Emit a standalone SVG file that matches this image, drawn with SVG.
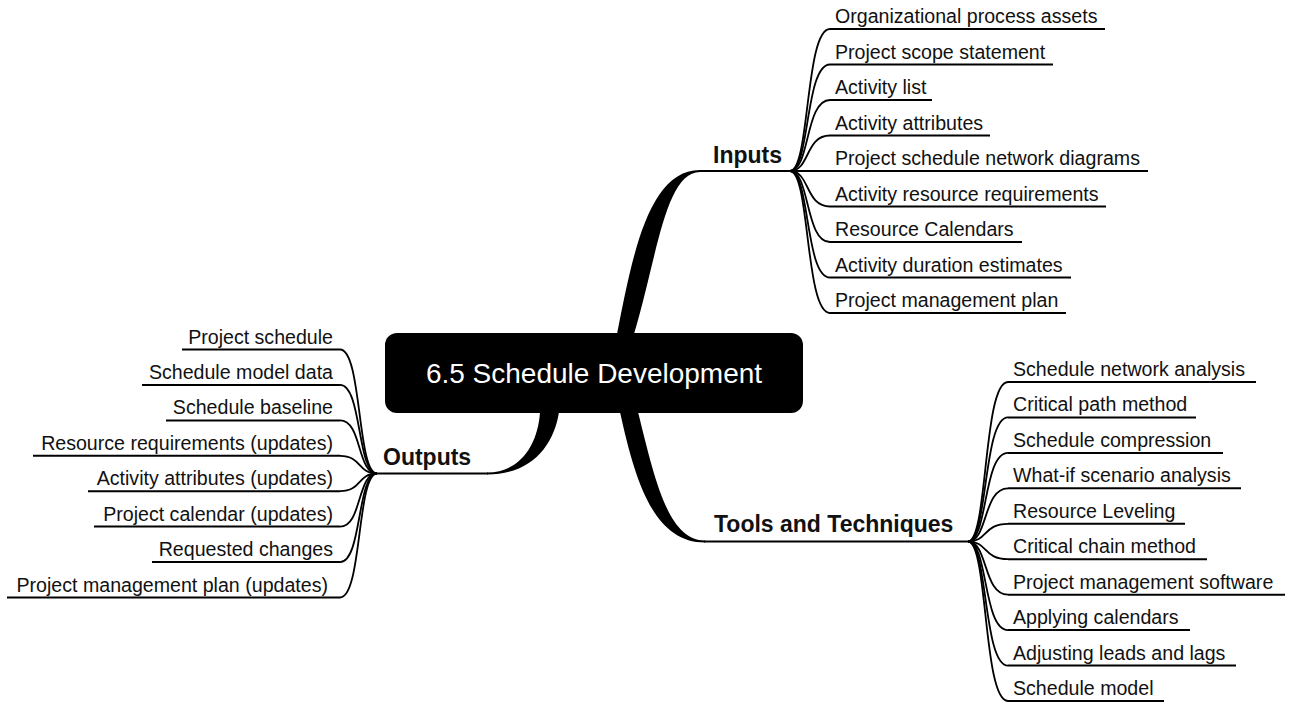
<svg xmlns="http://www.w3.org/2000/svg" width="1289" height="702" viewBox="0 0 1289 702">
  <style>
    .leaf { font-family: "Liberation Sans", Arial, sans-serif; font-size: 19.6px; fill: #111; }
    .topic { font-family: "Liberation Sans", Arial, sans-serif; font-size: 23px; font-weight: bold; fill: #111; }
    .root { font-family: "Liberation Sans", Arial, sans-serif; font-size: 28px; fill: #fff; }
    .ul { stroke: #000; stroke-width: 2; fill: none; }
    .link { stroke: #000; stroke-width: 1.8; fill: none; }
    .trunk { fill: #000; stroke: none; }
  </style>
  <rect width="1289" height="702" fill="#fff"/>

  <!-- connectors: tapered main branches and thin leaf links -->
  <g id="connectors">
    <!-- central topic to Inputs -->
    <path class="trunk" d="M617,334 C632,258 648,170 700,170 L700,172 C665,172 657,258 634,334 Z"/>
    <!-- central topic to Tools and Techniques -->
    <path class="trunk" d="M620,412 C636,485 655,542.5 705,542.5 L705,540.5 C668,540.5 655,480 638,412 Z"/>
    <!-- central topic to Outputs -->
    <path class="trunk" d="M540,412 C538,445 520,472.5 487,472.5 L487,474.5 C532,474.5 554,445 559,412 Z"/>

    <!-- Inputs links -->
    <g id="links-inputs">
      <path class="link" d="M790,171 C810,171 805,29 830,29"/>
      <path class="link" d="M790,171 C810,171 805,64.5 830,64.5"/>
      <path class="link" d="M790,171 C810,171 805,100 830,100"/>
      <path class="link" d="M790,171 C810,171 805,135.5 830,135.5"/>
      <path class="link" d="M790,171 L830,171"/>
      <path class="link" d="M790,171 C810,171 805,206.5 830,206.5"/>
      <path class="link" d="M790,171 C810,171 805,242 830,242"/>
      <path class="link" d="M790,171 C810,171 805,277.5 830,277.5"/>
      <path class="link" d="M790,171 C810,171 805,313 830,313"/>
    </g>

    <!-- Tools and Techniques links -->
    <g id="links-tools">
      <path class="link" d="M968,541.5 C988,541.5 983,382 1008,382"/>
      <path class="link" d="M968,541.5 C988,541.5 983,417.4 1008,417.4"/>
      <path class="link" d="M968,541.5 C988,541.5 983,452.9 1008,452.9"/>
      <path class="link" d="M968,541.5 C988,541.5 983,488.3 1008,488.3"/>
      <path class="link" d="M968,541.5 C988,541.5 983,523.8 1008,523.8"/>
      <path class="link" d="M968,541.5 C988,541.5 983,559.2 1008,559.2"/>
      <path class="link" d="M968,541.5 C988,541.5 983,594.7 1008,594.7"/>
      <path class="link" d="M968,541.5 C988,541.5 983,630.1 1008,630.1"/>
      <path class="link" d="M968,541.5 C988,541.5 983,665.6 1008,665.6"/>
      <path class="link" d="M968,541.5 C988,541.5 983,701 1008,701"/>
    </g>

    <!-- Outputs links -->
    <g id="links-outputs">
      <path class="link" d="M377,473.5 C357,473.5 362,349.5 340,349.5"/>
      <path class="link" d="M377,473.5 C357,473.5 362,384.9 340,384.9"/>
      <path class="link" d="M377,473.5 C357,473.5 362,420.4 340,420.4"/>
      <path class="link" d="M377,473.5 C357,473.5 362,455.8 340,455.8"/>
      <path class="link" d="M377,473.5 C357,473.5 362,491.2 340,491.2"/>
      <path class="link" d="M377,473.5 C357,473.5 362,526.6 340,526.6"/>
      <path class="link" d="M377,473.5 C357,473.5 362,562.1 340,562.1"/>
      <path class="link" d="M377,473.5 C357,473.5 362,597.5 340,597.5"/>
    </g>
  </g>

  <!-- central topic -->
  <g id="root">
    <rect x="385" y="333" width="418" height="80" rx="12" ry="12" fill="#000"/>
    <text class="root" x="594" y="383" text-anchor="middle">6.5 Schedule Development</text>
  </g>

  <!-- main topics -->
  <g id="inputs">
    <line class="ul" x1="699" y1="171" x2="790" y2="171"/>
    <text class="topic" x="713" y="162.5">Inputs</text>
  </g>
  <g id="tools">
    <line class="ul" x1="704" y1="541.5" x2="968" y2="541.5"/>
    <text class="topic" x="714" y="532">Tools and Techniques</text>
  </g>
  <g id="outputs">
    <line class="ul" x1="377" y1="473.5" x2="488" y2="473.5"/>
    <text class="topic" x="383" y="464.5">Outputs</text>
  </g>

  <!-- Inputs subtopics -->
  <g id="in-1"><line class="ul" x1="830" y1="29" x2="1105" y2="29"/><text class="leaf" x="835" y="23">Organizational process assets</text></g>
  <g id="in-2"><line class="ul" x1="830" y1="64.5" x2="1053" y2="64.5"/><text class="leaf" x="835" y="58.5">Project scope statement</text></g>
  <g id="in-3"><line class="ul" x1="830" y1="100" x2="932" y2="100"/><text class="leaf" x="835" y="94">Activity list</text></g>
  <g id="in-4"><line class="ul" x1="830" y1="135.5" x2="990" y2="135.5"/><text class="leaf" x="835" y="129.5">Activity attributes</text></g>
  <g id="in-5"><line class="ul" x1="830" y1="171" x2="1148" y2="171"/><text class="leaf" x="835" y="165">Project schedule network diagrams</text></g>
  <g id="in-6"><line class="ul" x1="830" y1="206.5" x2="1106" y2="206.5"/><text class="leaf" x="835" y="200.5">Activity resource requirements</text></g>
  <g id="in-7"><line class="ul" x1="830" y1="242" x2="1022" y2="242"/><text class="leaf" x="835" y="236">Resource Calendars</text></g>
  <g id="in-8"><line class="ul" x1="830" y1="277.5" x2="1071" y2="277.5"/><text class="leaf" x="835" y="271.5">Activity duration estimates</text></g>
  <g id="in-9"><line class="ul" x1="830" y1="313" x2="1066" y2="313"/><text class="leaf" x="835" y="307">Project management plan</text></g>

  <!-- Tools and Techniques subtopics -->
  <g id="tt-1"><line class="ul" x1="1008" y1="382" x2="1256" y2="382"/><text class="leaf" x="1013" y="376">Schedule network analysis</text></g>
  <g id="tt-2"><line class="ul" x1="1008" y1="417.4" x2="1196" y2="417.4"/><text class="leaf" x="1013" y="411.4">Critical path method</text></g>
  <g id="tt-3"><line class="ul" x1="1008" y1="452.9" x2="1223" y2="452.9"/><text class="leaf" x="1013" y="446.9">Schedule compression</text></g>
  <g id="tt-4"><line class="ul" x1="1008" y1="488.3" x2="1241" y2="488.3"/><text class="leaf" x="1013" y="482.3">What-if scenario analysis</text></g>
  <g id="tt-5"><line class="ul" x1="1008" y1="523.8" x2="1185" y2="523.8"/><text class="leaf" x="1013" y="517.8">Resource Leveling</text></g>
  <g id="tt-6"><line class="ul" x1="1008" y1="559.2" x2="1207" y2="559.2"/><text class="leaf" x="1013" y="553.2">Critical chain method</text></g>
  <g id="tt-7"><line class="ul" x1="1008" y1="594.7" x2="1285" y2="594.7"/><text class="leaf" x="1013" y="588.7">Project management software</text></g>
  <g id="tt-8"><line class="ul" x1="1008" y1="630.1" x2="1190" y2="630.1"/><text class="leaf" x="1013" y="624.1">Applying calendars</text></g>
  <g id="tt-9"><line class="ul" x1="1008" y1="665.6" x2="1236" y2="665.6"/><text class="leaf" x="1013" y="659.6">Adjusting leads and lags</text></g>
  <g id="tt-10"><line class="ul" x1="1008" y1="701" x2="1164" y2="701"/><text class="leaf" x="1013" y="695">Schedule model</text></g>

  <!-- Outputs subtopics -->
  <g id="out-1"><line class="ul" x1="182" y1="349.5" x2="340" y2="349.5"/><text class="leaf" x="333" y="343.5" text-anchor="end">Project schedule</text></g>
  <g id="out-2"><line class="ul" x1="142" y1="384.9" x2="340" y2="384.9"/><text class="leaf" x="333" y="378.9" text-anchor="end">Schedule model data</text></g>
  <g id="out-3"><line class="ul" x1="166" y1="420.4" x2="340" y2="420.4"/><text class="leaf" x="333" y="414.4" text-anchor="end">Schedule baseline</text></g>
  <g id="out-4"><line class="ul" x1="33" y1="455.8" x2="340" y2="455.8"/><text class="leaf" x="333" y="449.8" text-anchor="end">Resource requirements (updates)</text></g>
  <g id="out-5"><line class="ul" x1="88" y1="491.2" x2="340" y2="491.2"/><text class="leaf" x="333" y="485.2" text-anchor="end">Activity attributes (updates)</text></g>
  <g id="out-6"><line class="ul" x1="94" y1="526.6" x2="340" y2="526.6"/><text class="leaf" x="333" y="520.6" text-anchor="end">Project calendar (updates)</text></g>
  <g id="out-7"><line class="ul" x1="152" y1="562.1" x2="340" y2="562.1"/><text class="leaf" x="333" y="556.1" text-anchor="end">Requested changes</text></g>
  <g id="out-8"><line class="ul" x1="7" y1="597.5" x2="340" y2="597.5"/><text class="leaf" x="328" y="591.5" text-anchor="end">Project management plan (updates)</text></g>
</svg>
